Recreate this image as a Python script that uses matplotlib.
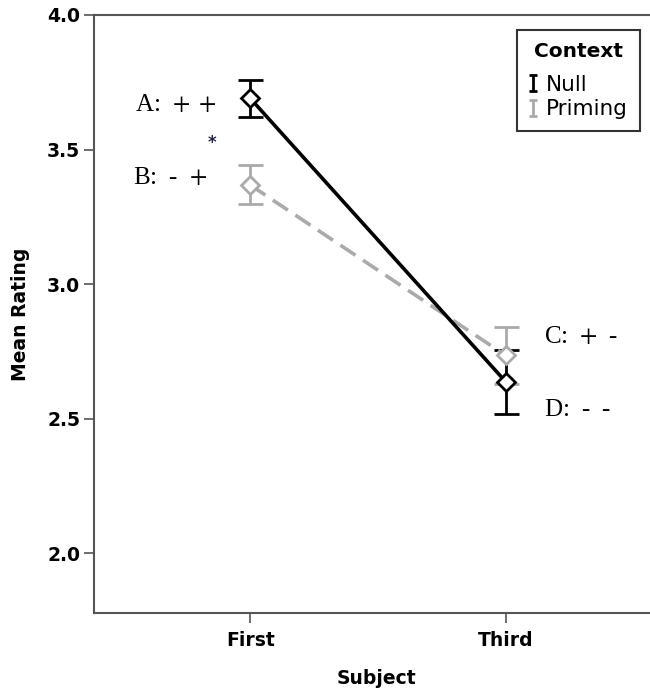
import numpy as np
import matplotlib.pyplot as plt
from matplotlib.path import Path
from matplotlib.lines import Line2D

plt.rcParams['mathtext.fontset'] = 'stix'

# Means and 95% CI bounds
subjects = ["First", "Third"]
null_mean = [3.69, 2.637]
null_low = [3.622, 2.519]
null_high = [3.759, 2.756]
prime_mean = [3.368, 2.735]
prime_low = [3.296, 2.630]
prime_high = [3.441, 2.841]

null_color = "#000000"
prime_color = "#aaaaaa"
spine_color = "#555555"

fig = plt.figure(figsize=(6.5, 6.93), dpi=100)
ax = fig.add_axes([94 / 650, 80 / 693, 565 / 650, 598 / 693])

x = np.arange(len(subjects))


def draw(means, low, high, color, ls):
    means = np.array(means)
    err = [means - np.array(low), np.array(high) - means]
    ax.errorbar(x, means, yerr=err, color=color, linestyle=ls, linewidth=2.6,
                dashes=(5, 2.5) if ls == "--" else (None, None),
                marker="D", markersize=9, markerfacecolor="white",
                markeredgecolor=color, markeredgewidth=2.0,
                elinewidth=2.0, capsize=9, capthick=2.0)


draw(prime_mean, prime_low, prime_high, prime_color, "--")
draw(null_mean, null_low, null_high, null_color, "-")

ax.set_xlim(-0.612, 1.6)
ax.set_ylim(1.778, 4.0)
ax.set_xticks(x)
ax.set_xticklabels(subjects)
ax.set_yticks([2.0, 2.5, 3.0, 3.5, 4.0])
ax.set_yticklabels(["2.0", "2.5", "3.0", "3.5", "4.0"])

for s in ["left", "bottom", "top"]:
    ax.spines[s].set_color(spine_color)
    ax.spines[s].set_linewidth(1.5)
ax.spines["right"].set_visible(False)
ax.tick_params(axis="both", length=7, width=1.2, color=spine_color,
               labelsize=13.5, pad=3)
for lab in ax.get_xticklabels() + ax.get_yticklabels():
    lab.set_fontweight("bold")
ax.tick_params(axis="x", pad=6)

ax.set_xlabel("Subject", fontsize=13.5, fontweight="bold", labelpad=14)
ax.set_ylabel("Mean Rating", fontsize=13.5, fontweight="bold", labelpad=12)

# condition labels
serif = "Liberation Serif"
ax.text(-0.135, 3.667, r"A:$\ \ {+}\,\ {+}$", fontsize=18, family=serif,
        ha="right", va="center")
ax.text(-0.17, 3.396, r"B:$\ \ $-$\ \ {+}$", fontsize=18, family=serif,
        ha="right", va="center")
ax.text(-0.15, 3.525, "*", fontsize=12, fontweight="bold", ha="center", va="center",
        color="#222244")
ax.text(1.149, 2.804, r"C:$\ \ {+}\ \ $-", fontsize=18, family=serif,
        ha="left", va="center")
ax.text(1.149, 2.533, r"D:$\ \ $-$\ \ $-", fontsize=18, family=serif,
        ha="left", va="center")

# I-beam legend handles
ibeam = Path([(-0.5, 1), (0.5, 1), (0, 1), (0, -1), (-0.5, -1), (0.5, -1)],
             [Path.MOVETO, Path.LINETO, Path.MOVETO, Path.LINETO,
              Path.MOVETO, Path.LINETO])
handles = [Line2D([], [], linestyle="none", marker=ibeam, markersize=12,
                  markeredgewidth=2.0, color=c) for c in [null_color, prime_color]]
leg = ax.legend(handles, ["Null", "Priming"], title="Context",
                loc="upper right", bbox_to_anchor=(546 / 565, 1 - 15 / 598),
                fontsize=15.5, title_fontproperties={"weight": "bold", "size": 14.5},
                frameon=True, fancybox=False, handlelength=0.35, handletextpad=0.45,
                borderpad=0.55, labelspacing=0.2, borderaxespad=0)
leg.get_frame().set_edgecolor("black")
leg.get_frame().set_linewidth(1.5)
leg._legend_box.sep = 10

fig.savefig("out.png", dpi=100)
